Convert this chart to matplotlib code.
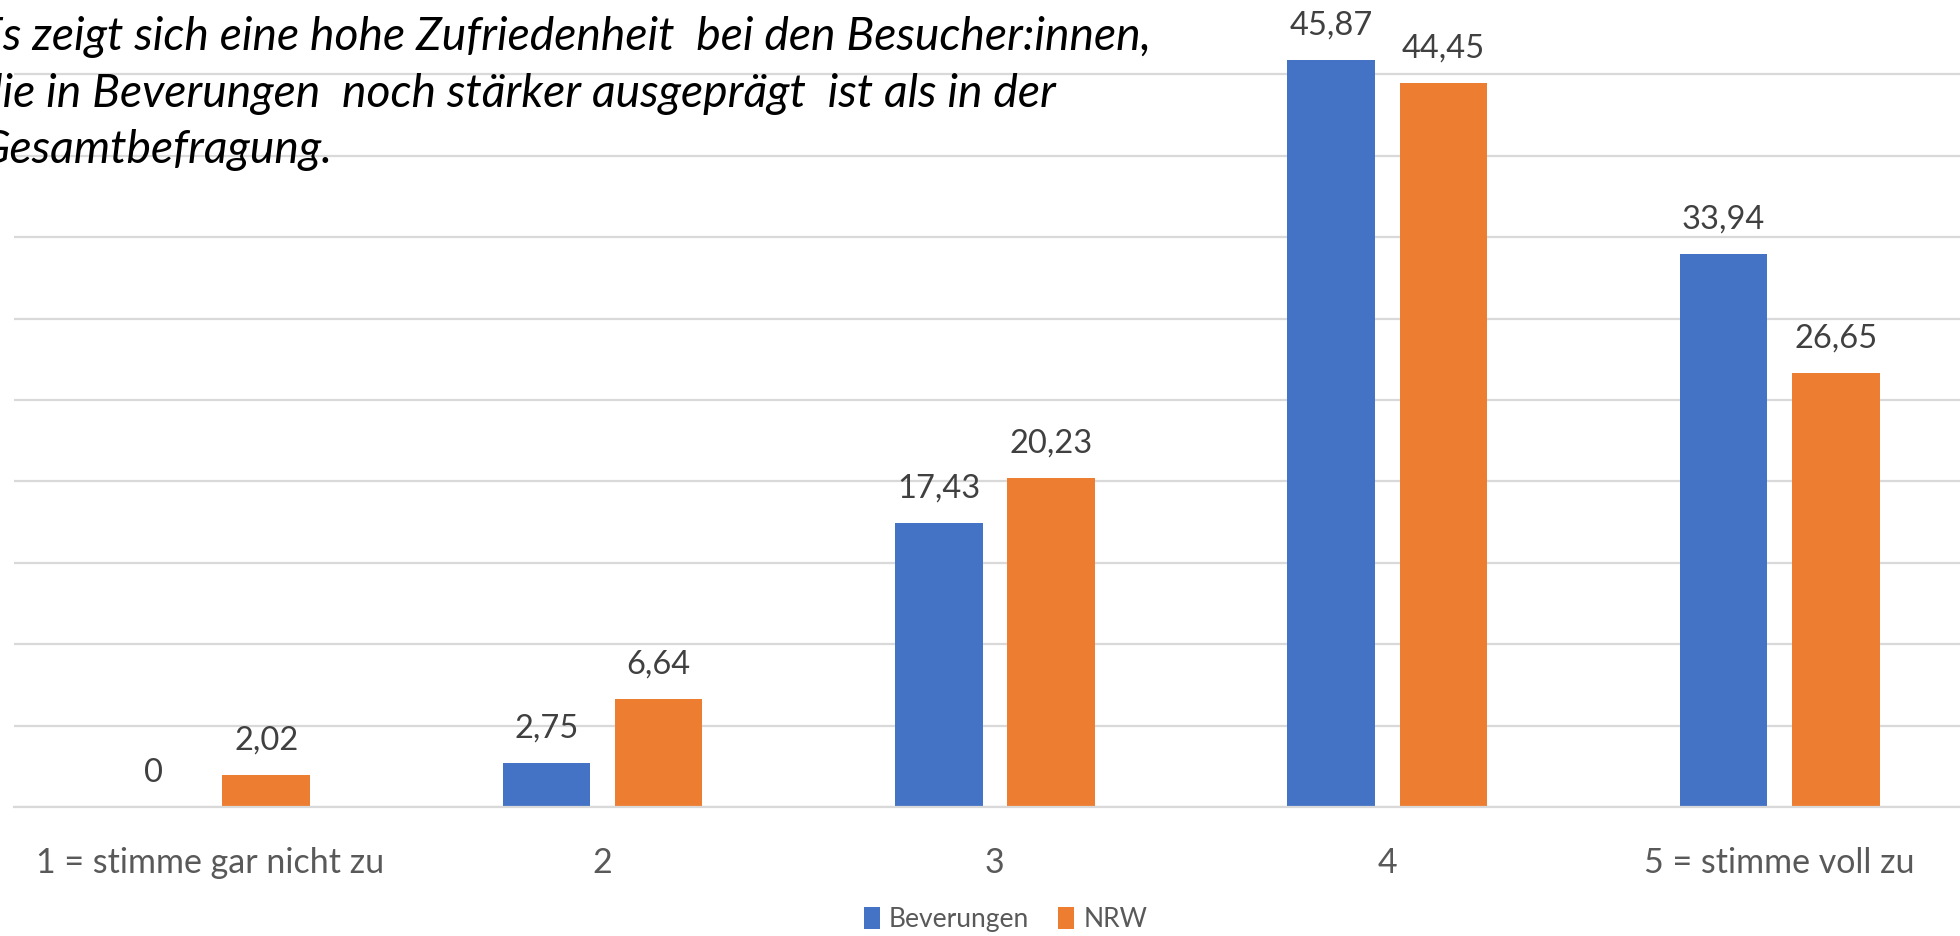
import numpy as np
import matplotlib.pyplot as plt

# data
categories = ["1 = stimme gar nicht zu", "2", "3", "4", "5 = stimme voll zu"]
beverungen = [0, 2.75, 17.43, 45.87, 33.94]
nrw = [2.02, 6.64, 20.23, 44.45, 26.65]
series_names = ["Beverungen", "NRW"]
yticks = np.arange(0, 50, 5)

blue = "#4472C4"
orange = "#ED7D31"

plt.rcParams['font.family'] = ['Lato', 'DejaVu Sans']

fig = plt.figure(figsize=(19.6, 9.36), dpi=100)
# the reference is a crop, so the axes spill a bit past the right/top edge
ax = fig.add_axes([0.0071, 0.1373, 1.001, 0.8707])

x = np.arange(len(categories))
w = 0.223
off = 0.143
b1 = ax.bar(x - off, beverungen, w, color=blue, label=series_names[0], zorder=3)
b2 = ax.bar(x + off, nrw, w, color=orange, label=series_names[1], zorder=3)

def fmt(v):
    s = f"{v:.2f}".rstrip("0").rstrip(".") if v != int(v) else str(int(v))
    return s.replace(".", ",")

for bars, vals in ((b1, beverungen), (b2, nrw)):
    for r, v in zip(bars, vals):
        ax.annotate(fmt(v), (r.get_x() + r.get_width() / 2, v),
                    xytext=(0, 14), textcoords="offset points",
                    ha="center", va="bottom", fontsize=23.5, color="#404040")

ax.set_xlim(-0.5, 4.5)
ax.set_ylim(0, 50)
ax.set_yticks(yticks)
ax.yaxis.grid(True, color="#d9d9d9", linewidth=1.6, zorder=0)
ax.set_axisbelow(True)
ax.tick_params(axis="y", left=False, labelleft=False)
ax.tick_params(axis="x", bottom=False, pad=25, labelsize=24.5, labelcolor="#595959")
ax.set_xticks(x)
ax.set_xticklabels(categories)
for s in ["top", "right", "left"]:
    ax.spines[s].set_visible(False)
ax.spines["bottom"].set_color("#d9d9d9")
ax.spines["bottom"].set_linewidth(1.6)
ax.spines["bottom"].set_zorder(4)

fig.legend(handles=[b1, b2], loc="center", bbox_to_anchor=(0.513, 0.018),
           ncol=2, frameon=False, fontsize=19, labelcolor="#595959",
           handlelength=0.6, handleheight=0.9, handletextpad=0.35, columnspacing=1.1)

fig.text(-0.011, 0.983,
         "Es zeigt sich eine hohe Zufriedenheit  bei den Besucher:innen,\n"
         "die in Beverungen  noch stärker ausgeprägt  ist als in der\n"
         "Gesamtbefragung.",
         ha="left", va="top", fontsize=33.3, fontstyle="italic", color="black",
         linespacing=1.43)

fig.savefig("out.png", dpi=100)
